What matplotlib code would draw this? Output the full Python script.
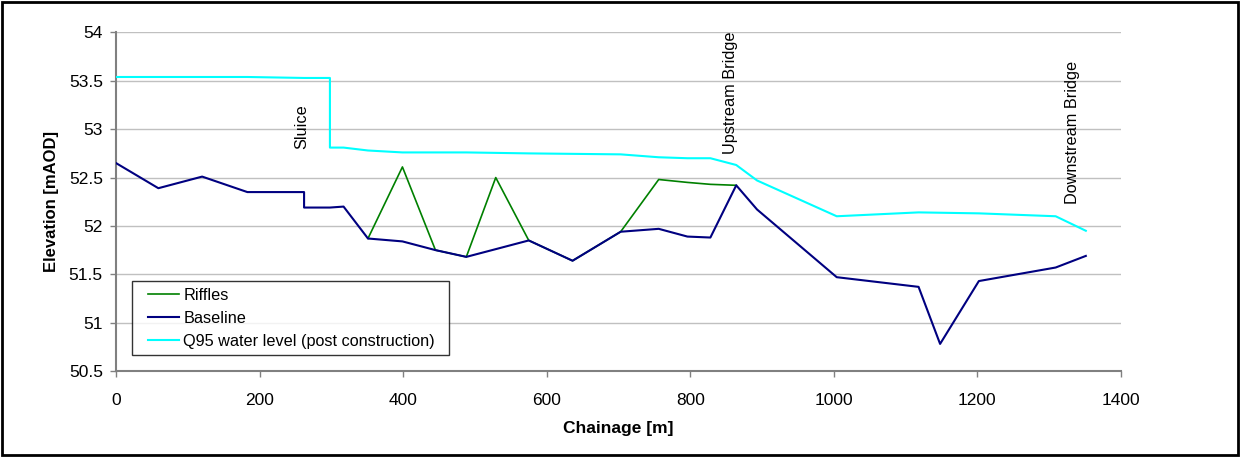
import matplotlib
matplotlib.use("Agg")
import matplotlib.pyplot as plt
from matplotlib.patches import Rectangle
from matplotlib.legend_handler import HandlerLine2D

plt.rcParams['font.family'] = ['Liberation Sans', 'DejaVu Sans']

# Long section along the channel
chainage = [0, 59, 120, 183, 262, 262, 298, 317, 351, 399, 445, 488, 529, 575,
            636, 703, 756, 796, 828, 864, 893, 1004, 1118, 1148, 1202, 1309, 1351]
baseline = [52.65, 52.39, 52.51, 52.35, 52.35, 52.19, 52.19, 52.20, 51.87, 51.84,
            51.75, 51.68, 51.76, 51.85, 51.64, 51.94, 51.97, 51.89, 51.88, 52.42,
            52.17, 51.47, 51.37, 50.78, 51.43, 51.57, 51.69]

riffle_chainage = [351, 399, 445, 488, 529, 575, 636, 703, 756, 796, 828, 864]
riffle_level = [51.87, 52.61, 51.75, 51.68, 52.50, 51.85, 51.64, 51.94, 52.48,
                52.45, 52.43, 52.42]

q95_chainage = [0, 81, 183, 262, 298, 298, 317, 351, 399, 488, 575, 703, 756, 796,
                828, 864, 893, 1004, 1118, 1202, 1309, 1351]
q95_level = [53.54, 53.54, 53.54, 53.53, 53.53, 52.81, 52.81, 52.78, 52.76, 52.76,
             52.75, 52.74, 52.71, 52.70, 52.70, 52.63, 52.47, 52.10, 52.14, 52.13,
             52.10, 51.95]

structures = ['Sluice', 'Upstream Bridge', 'Downstream Bridge']
structure_chainage = [259, 856, 1333]
structure_label_base = [52.80, 52.74, 52.23]

x_ticks = [0, 200, 400, 600, 800, 1000, 1200, 1400]
y_ticks = [50.5, 51, 51.5, 52, 52.5, 53, 53.5, 54]

W, H = 1240, 457
fig = plt.figure(figsize=(W / 100, H / 100), dpi=100)
ax = fig.add_axes([116 / W, 1 - 371 / H, (1121 - 116) / W, (371 - 32.5) / H])

ax.plot(riffle_chainage, riffle_level, color='#008000', lw=1.2, label='Riffles', zorder=3)
ax.plot(chainage, baseline, color='#000080', lw=1.5, label='Baseline', zorder=4)
ax.plot(q95_chainage, q95_level, color='#00FFFF', lw=1.5,
        label='Q95 water level (post construction)', zorder=5)

for name, xc, yb in zip(structures, structure_chainage, structure_label_base):
    ax.text(xc, yb, name, rotation=90, ha='center', va='bottom', fontsize=11.7,
            clip_on=False, zorder=6)

ax.set_xlim(0, 1400)
ax.set_ylim(50.5, 54)
ax.set_xticks(x_ticks)
ax.set_yticks(y_ticks)
ax.set_yticklabels([f'{v:g}' for v in y_ticks])
ax.tick_params(labelsize=12.5, direction='out', length=4.5, width=1, color='#808080')
ax.tick_params(axis='x', pad=11)
ax.tick_params(axis='y', pad=5)
ax.grid(axis='y', color='#c0c0c0', lw=1)
ax.set_axisbelow(True)
for side in ('top', 'right'):
    ax.spines[side].set_visible(False)
for side in ('left', 'bottom'):
    ax.spines[side].set_color('#808080')
    ax.spines[side].set_linewidth(1.5)

ax.set_xlabel('Chainage [m]', fontsize=12.5, fontweight='bold')
ax.set_ylabel('Elevation [mAOD]', fontsize=12, fontweight='bold')
ax.xaxis.set_label_coords(0.5, -(421 - 371) / 338.5)
ax.yaxis.set_label_coords(-(116 - 59) / 1005, 0.5)

fs = 11.7
leg = ax.legend(loc='upper left',
                bbox_to_anchor=(16 / 1005, (371 - 359) / 338.5, 317 / 1005, 78 / 338.5),
                mode='expand', borderaxespad=0, fontsize=fs, frameon=True,
                fancybox=False, edgecolor='black', handlelength=2.5,
                handletextpad=0.25, labelspacing=0.5, borderpad=0.4,
                handler_map={plt.Line2D: HandlerLine2D(xpad=0.6)})
leg.get_frame().set_linewidth(1)

fig.patches.append(Rectangle((0.002, 0.004), 0.996, 0.992, transform=fig.transFigure,
                             fill=False, edgecolor='black', lw=2))

fig.savefig('out.png', dpi=100)
